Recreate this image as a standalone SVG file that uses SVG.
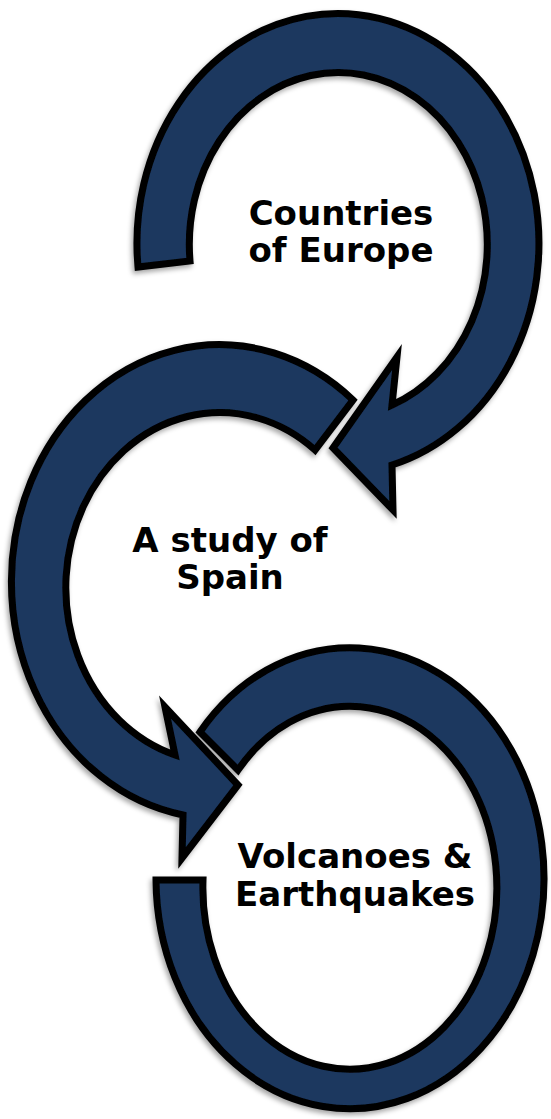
<svg xmlns="http://www.w3.org/2000/svg" width="551" height="1119" viewBox="0 0 551 1119">
  <defs>
    <filter id="shadow" x="-10%" y="-10%" width="120%" height="120%">
      <feDropShadow dx="-2" dy="3" stdDeviation="2.5" flood-color="#000" flood-opacity="0.35"/>
    </filter>
    <style>
      .arrow { fill: #1b375e; stroke: #000; stroke-width: 7; stroke-linejoin: miter; stroke-miterlimit: 10; filter: url(#shadow); }
      .label { font-family: "DejaVu Sans", Verdana, sans-serif; font-weight: bold; font-size: 34px; fill: #000; text-anchor: middle; }
    </style>
  </defs>
  <rect width="551" height="1119" fill="#fff"/>
  <g id="node-countries-of-europe">
    <path class="arrow" d="M 138,267 A 201 230 0 1 1 392,465 L 393,510 L 333,448 L 397,357 L 392,405 A 149 172 0 1 0 190,261 Z"/>
    <text class="label" x="341" y="225">Countries</text>
    <text class="label" x="341" y="262">of Europe</text>
  </g>
  <g id="node-a-study-of-spain">
    <path class="arrow" d="M 353,400 A 208 237 0 1 0 183,815 L 182,858 L 238,785 L 165,707 L 175,755 A 154 175 0 1 1 315,450 Z"/>
    <text class="label" x="230" y="552">A study of</text>
    <text class="label" x="230" y="589">Spain</text>
  </g>
  <g id="node-volcanoes-earthquakes">
    <path class="arrow" d="M 156,880 A 194 230.5 0 1 0 200,732 L 238,770 A 147 181.5 0 1 1 203,880 Z"/>
    <text class="label" x="355" y="868">Volcanoes &amp;</text>
    <text class="label" x="355" y="906">Earthquakes</text>
  </g>
  <g id="connectors"/>
</svg>
